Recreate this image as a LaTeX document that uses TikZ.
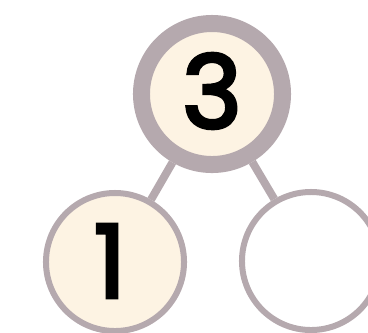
\documentclass[tikz,border=0pt]{standalone}
\usepackage{fontspec}
\setmainfont{Poppins}
\newfontfamily\digitfont{Poppins}[FakeBold=3.5]
\usepackage{xcolor}
\definecolor{ringgray}{HTML}{B5A9AE}
\definecolor{bondcream}{HTML}{FDF3E3}

\begin{document}
\begin{tikzpicture}[
  x=0.025cm, y=-0.025cm,
  font=\digitfont\fontsize{72}{72}\selectfont,
  bondline/.style={draw=ringgray, line width=0.2cm},
  whole/.style={circle, draw=ringgray, fill=bondcream, line width=0.425cm, minimum size=3.525cm, inner sep=0pt},
  part/.style={circle, draw=ringgray, fill=bondcream, line width=0.15cm, minimum size=3.45cm, inner sep=0pt},
  emptypart/.style={part, fill=white}
]
\useasboundingbox (0,0) rectangle (368,332);

%--------------------------------------------------------------
% Zahlenhaus: Ganzes oben, Teile unten
%--------------------------------------------------------------
\node[whole] (top) at (212,94) {};
\node[part] (left) at (115,262) {};
\node[emptypart] (right) at (311,261) {};

\node[inner sep=0pt] (three) at (212,91) {3};
\node[inner sep=0pt] (one) at (110,261) {1};

% Verbindungen
\draw[bondline] (top) -- (left);
\draw[bondline] (top) -- (right);

\end{tikzpicture}
\end{document}
